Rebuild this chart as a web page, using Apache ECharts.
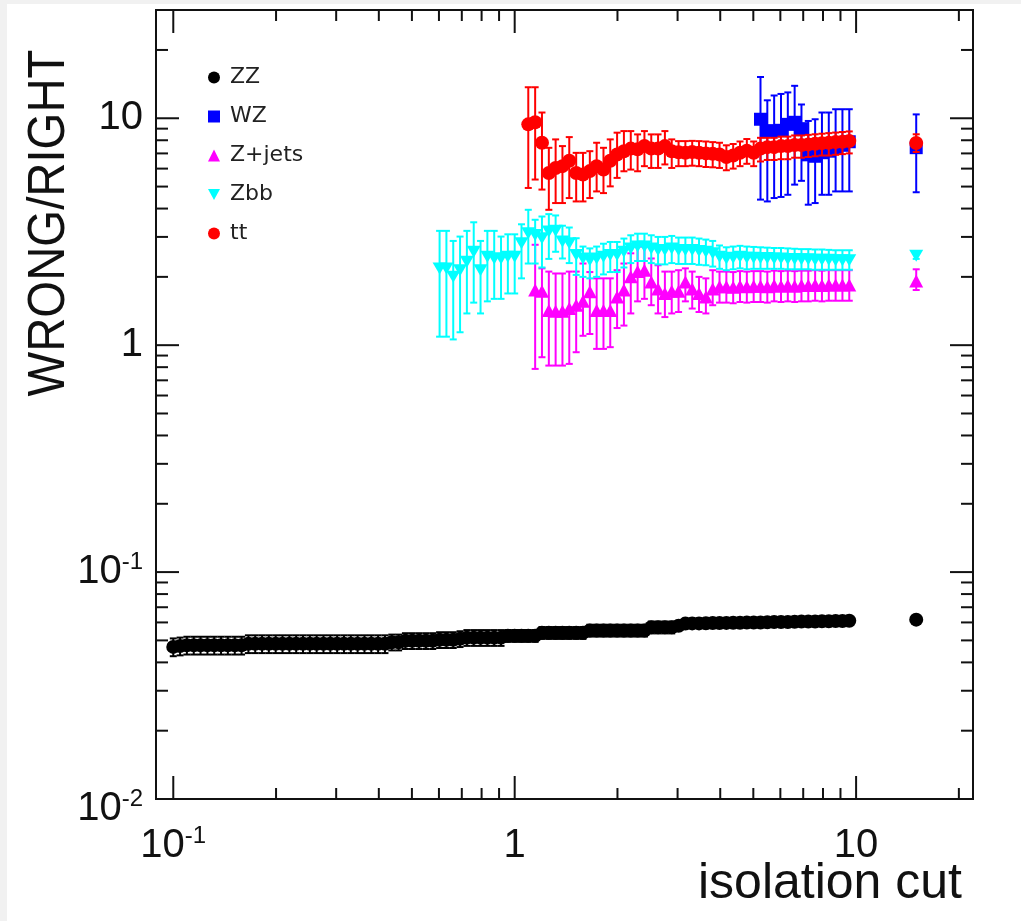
<!DOCTYPE html>
<html><head><meta charset="utf-8">
<script src="https://cdn.jsdelivr.net/npm/echarts@6/dist/echarts.min.js"></script>
<style>
html,body{margin:0;padding:0;background:#f1f1f1;width:1021px;height:921px;overflow:hidden}
#c{position:absolute;left:7px;top:4px;width:1014px;height:917px;background:#fff}
</style></head><body><div id="c"></div><script>
// isolation cut values (log-spaced bins) + overflow point
const xVals = [0.1000,0.1047,0.1096,0.1148,0.1202,0.1259,0.1318,0.1380,0.1445,0.1514,
0.1585,0.1660,0.1738,0.1820,0.1905,0.1995,0.2089,0.2188,0.2291,0.2399,
0.2512,0.2630,0.2754,0.2884,0.3020,0.3162,0.3311,0.3467,0.3631,0.3802,
0.3981,0.4169,0.4365,0.4571,0.4786,0.5012,0.5248,0.5495,0.5754,0.6026,
0.6310,0.6607,0.6918,0.7244,0.7586,0.7943,0.8318,0.8710,0.9120,0.9550,
1.000,1.047,1.096,1.148,1.202,1.259,1.318,1.380,1.445,1.514,
1.585,1.660,1.738,1.820,1.905,1.995,2.089,2.188,2.291,2.399,
2.512,2.630,2.754,2.884,3.020,3.162,3.311,3.467,3.631,3.802,
3.981,4.169,4.365,4.571,4.786,5.012,5.248,5.495,5.754,6.026,
6.310,6.607,6.918,7.244,7.586,7.943,8.318,8.710,9.120,9.550];
const xOverflow = 15;

const seriesNames = ['ZZ','WZ','Z+jets','Zbb','tt'];
const seriesColors = ['#000000','#0000ff','#ff00ff','#00ffff','#ff0000'];
const seriesStart = [0, 86, 53, 39, 52];

// ZZ (values, relative errors)
const zzVal = [0.0468,0.0472,0.0476,0.0476,0.0476,0.0476,0.0476,0.0476,0.0476,0.0476,
0.0476,0.0483,0.0483,0.0483,0.0483,0.0483,0.0483,0.0483,0.0483,0.0483,
0.0483,0.0483,0.0483,0.0483,0.0483,0.0483,0.0483,0.0483,0.0483,0.0483,
0.0483,0.0483,0.0491,0.0491,0.0498,0.0498,0.0498,0.0498,0.0498,0.0503,
0.0503,0.0503,0.0508,0.0514,0.0514,0.0514,0.0514,0.0514,0.0514,0.0524,
0.0524,0.0524,0.0524,0.0524,0.0540,0.0540,0.0540,0.0540,0.0540,0.0540,
0.0540,0.0553,0.0553,0.0553,0.0553,0.0553,0.0553,0.0553,0.0553,0.0553,
0.0571,0.0571,0.0571,0.0571,0.0580,0.0593,0.0594,0.0594,0.0595,0.0596,
0.0596,0.0597,0.0598,0.0598,0.0599,0.0600,0.0600,0.0601,0.0602,0.0603,
0.0603,0.0604,0.0605,0.0605,0.0606,0.0607,0.0607,0.0608,0.0609,0.0610,
0.0617];
const zzErr = [0.09,0.09,0.09,0.09,0.09,0.09,0.09,0.09,0.09,0.09,
0.09,0.09,0.09,0.09,0.09,0.09,0.09,0.09,0.09,0.09,
0.09,0.09,0.09,0.09,0.09,0.09,0.09,0.09,0.09,0.09,
0.09,0.09,0.08,0.08,0.08,0.08,0.08,0.08,0.08,0.08,
0.08,0.08,0.08,0.08,0.08,0.08,0.08,0.08,0.08,0.06,
0.06,0.06,0.06,0.06,0.06,0.06,0.06,0.06,0.06,0.06,
0.06,0.06,0.06,0.06,0.06,0.06,0.06,0.06,0.06,0.06,
0.06,0.06,0.06,0.06,0.03,0.03,0.03,0.03,0.03,0.03,
0.03,0.03,0.03,0.03,0.03,0.03,0.03,0.03,0.03,0.03,
0.03,0.03,0.03,0.03,0.03,0.03,0.03,0.03,0.03,0.03,
0.02];

// WZ
const wzVal  = [9.9, 8.8, 8.8, 8.85, 9.4, 9.6, 9.0, 6.9, 6.8, 7.05, 7.16, 7.4, 7.6, 7.88, 7.42];
const wzHigh = [15.2, 12.0, 12.6, 12.8, 13.0, 13.9, 11.5, 9.73, 9.9, 10.6, 10.6, 10.96, 10.96, 10.96, 10.4];
const wzLow  = [4.38, 4.3, 4.45, 4.5, 4.6, 5.1, 5.3, 4.16, 4.23, 4.6, 4.6, 4.76, 4.76, 4.76, 4.72];

// Z+jets
const zjVal = [1.75,1.73,1.42,1.41,1.41,1.45,1.50,1.56,1.72,1.42,1.42,1.42,1.63,1.75,2.00,2.11,2.14,1.90,1.77,1.69,
1.73,1.73,1.90,1.77,1.69,1.63,1.77,1.81,
1.81,1.80,1.82,1.81,1.82,1.82,1.81,1.83,1.82,1.83,1.82,1.83,1.83,1.84,1.83,1.84,1.84,1.84,1.84,
1.92];
const zjHigh = [2.77,2.18,2.11,2.07,2.07,2.11,2.11,2.29,2.10,1.97,1.97,1.97,2.14,2.29,2.54,2.72,2.72,2.41,2.25,2.11,
2.11,2.14,2.18,2.11,2.00,1.97,2.14,2.11,
2.11,2.10,2.12,2.11,2.12,2.12,2.11,2.13,2.12,2.13,2.12,2.13,2.13,2.14,2.13,2.14,2.14,2.14,2.14,
2.16];
const zjLow = [0.786,0.885,0.813,0.813,0.813,0.827,0.931,1.10,1.12,0.963,0.963,0.98,1.19,1.22,1.38,1.56,1.60,1.50,1.38,1.33,
1.38,1.40,1.56,1.45,1.40,1.38,1.50,1.54,
1.54,1.53,1.55,1.54,1.55,1.55,1.54,1.56,1.55,1.56,1.55,1.56,1.56,1.57,1.56,1.57,1.57,1.57,1.57,
1.75];

// Zbb
const zbbVal = [2.18,2.18,2.00,2.14,2.33,2.58,2.14,2.45,2.41,2.41,2.45,2.45,2.81,3.11,3.06,2.96,3.17,3.19,2.86,2.81,
2.50,2.41,2.37,2.41,2.45,2.50,2.50,2.58,2.67,2.72,2.72,2.67,2.63,2.63,2.67,2.63,2.63,2.63,2.60,2.58,
2.54,2.45,2.41,2.43,2.45,2.43,2.43,2.42,2.42,2.41,2.41,2.40,2.40,2.39,2.39,2.38,2.38,2.38,2.37,2.37,2.37,
2.48];
const zbbHigh = [3.19,3.19,2.88,3.01,3.19,3.48,2.88,3.19,3.19,3.01,3.08,3.08,3.41,3.95,3.57,3.69,3.78,3.73,3.36,3.30,
2.96,2.72,2.67,2.72,2.80,2.85,2.85,2.95,3.05,3.10,3.10,3.05,3.00,3.00,3.03,2.98,2.98,2.98,2.95,2.92,
2.88,2.75,2.70,2.72,2.74,2.72,2.71,2.70,2.69,2.68,2.68,2.67,2.66,2.65,2.65,2.64,2.64,2.63,2.62,2.62,2.62,
2.56];
const zbbLow = [1.09,1.09,1.06,1.14,1.38,1.54,1.38,1.56,1.60,1.60,1.69,1.69,1.97,2.29,2.29,2.20,2.40,2.58,2.41,2.30,
2.04,2.00,1.97,2.00,2.05,2.10,2.10,2.20,2.30,2.35,2.35,2.30,2.27,2.27,2.30,2.28,2.28,2.28,2.26,2.25,
2.22,2.17,2.14,2.16,2.18,2.16,2.17,2.17,2.17,2.17,2.17,2.16,2.16,2.16,2.16,2.15,2.15,2.15,2.15,2.15,2.15,
2.40];

// tt
const ttVal = [9.4,9.6,7.8,5.74,6.04,6.15,6.5,5.74,5.65,5.85,6.15,5.95,6.5,6.92,7.16,7.35,7.3,7.55,7.35,7.35,
7.54,7.16,7.08,7.05,7.10,7.05,7.00,6.98,6.92,6.75,6.85,7.05,7.2,7.05,7.35,7.46,7.46,7.54,7.54,7.62,
7.62,7.67,7.72,7.77,7.80,7.85,7.88,7.93,
7.78];
const ttHigh = [13.7,13.7,10.6,7.41,8.07,7.54,8.26,7.04,7.04,7.16,7.8,7.41,8.07,8.64,8.78,8.78,8.49,8.78,8.49,8.49,
8.78,8.07,7.93,7.93,7.95,7.93,7.90,7.85,7.80,7.60,7.70,7.90,8.10,7.90,8.20,8.20,8.20,8.30,8.30,8.40,
8.40,8.45,8.50,8.55,8.60,8.65,8.70,8.75,
8.50];
const ttLow = [4.93,5.37,4.85,3.95,4.23,4.23,4.45,4.30,4.30,4.45,4.76,4.68,5.01,5.46,5.84,5.94,5.84,6.15,6.04,6.04,
6.26,6.04,6.15,6.15,6.18,6.15,6.10,6.08,6.04,5.90,6.00,6.15,6.30,6.15,6.45,6.55,6.55,6.60,6.60,6.70,
6.70,6.75,6.80,6.85,6.85,6.90,6.95,7.00,
7.10];

// axis ticks
const xMajorTicks = [0.1, 1, 10];
const xMinorTicks = [0.2,0.3,0.4,0.5,0.6,0.7,0.8,0.9,2,3,4,5,6,7,8,9,20];
const yMajorTicks = [0.01, 0.1, 1, 10];
const yMinorTicks = [0.02,0.03,0.04,0.05,0.06,0.07,0.08,0.09,0.2,0.3,0.4,0.5,0.6,0.7,0.8,0.9,2,3,4,5,6,7,8,9,20];

const xAxisTitle = 'isolation cut';
const yAxisTitle = 'WRONG/RIGHT';

// ---------- build ----------
const FONT = "'Liberation Sans', Arial, sans-serif";
const INK = '#111';
const INV_TRI = 'path://M0,0L10,0L5,9Z';

function xsFor(k, n) {
  const xs = xVals.slice(seriesStart[k], seriesStart[k] + n - 1);
  xs.push(xOverflow);
  return xs;
}
const valsAll = [zzVal, wzVal, zjVal, zbbVal, ttVal];
const lowAll = [zzVal.map((v,i)=>v*(1-zzErr[i])), wzLow, zjLow, zbbLow, ttLow];
const highAll = [zzVal.map((v,i)=>v*(1+zzErr[i])), wzHigh, zjHigh, zbbHigh, ttHigh];
const symbols = ['circle','rect','triangle',INV_TRI,'circle'];
const symSizes = [14, 13, [14,13], [14,12], 14];

function isPow(v){ const l = Math.log10(v); return Math.abs(l - Math.round(l)) < 1e-6; }
function tickFmt(v){
  if (!isPow(v)) return '';
  const e = Math.round(Math.log10(v));
  if (e === 0) return '{b|1}';
  if (e === 1) return '{b|10}';
  if (e === -2) return '{pad| }{b2|10}{s2|' + e + '}';
  return '{b|10}{s|' + e + '}';
}
const richLab = {
  b: {fontSize: 40, fontFamily: FONT, color: INK, lineHeight: 44},
  s: {fontSize: 24, fontFamily: FONT, color: INK, lineHeight: 32, verticalAlign: 'top'},
  pad: {fontSize: 2, lineHeight: 60, width: 0},
  b2: {fontSize: 40, fontFamily: FONT, color: INK, lineHeight: 44, verticalAlign: 'bottom'},
  s2: {fontSize: 24, fontFamily: FONT, color: INK, lineHeight: 32, verticalAlign: 'middle'}
};

function errSeries(k) {
  const xs = xsFor(k, valsAll[k].length);
  const color = seriesColors[k];
  return {
    type: 'custom', name: seriesNames[k] + '_err', silent: true, z: 2 + 2*k,
    data: xs.map((x, i) => [x, lowAll[k][i], highAll[k][i]]),
    encode: {x: 0, y: [1, 2]},
    renderItem(params, api) {
      const x = api.value(0);
      const lo = api.coord([x, api.value(1)]);
      const hi = api.coord([x, api.value(2)]);
      const w = 3.5;
      const st = {stroke: color, lineWidth: 2};
      return {type: 'group', children: [
        {type: 'line', shape: {x1: lo[0], y1: lo[1], x2: hi[0], y2: hi[1]}, style: st},
        {type: 'line', shape: {x1: lo[0]-w, y1: lo[1], x2: lo[0]+w, y2: lo[1]}, style: st},
        {type: 'line', shape: {x1: hi[0]-w, y1: hi[1], x2: hi[0]+w, y2: hi[1]}, style: st}
      ]};
    }
  };
}
function markSeries(k) {
  const xs = xsFor(k, valsAll[k].length);
  return {
    type: 'scatter', name: seriesNames[k], silent: true, z: 3 + 2*k,
    symbol: symbols[k], symbolSize: symSizes[k], symbolKeepAspect: false,
    itemStyle: {color: seriesColors[k], opacity: 1},
    data: xs.map((x, i) => [x, valsAll[k][i]])
  };
}
function tickSeries(values, axis, len) {
  return {
    type: 'custom', silent: true, z: 30, clip: false,
    data: values.map(v => axis === 'x' ? [v, 1] : [1, v]),
    encode: {x: 0, y: 1},
    renderItem(params, api) {
      const cs = params.coordSys;
      const st = {stroke: INK, lineWidth: 2};
      if (axis === 'x') {
        const px = api.coord([api.value(0), 1])[0];
        const yb = cs.y + cs.height, yt = cs.y;
        return {type: 'group', children: [
          {type: 'line', shape: {x1: px, y1: yb, x2: px, y2: yb - len}, style: st},
          {type: 'line', shape: {x1: px, y1: yt, x2: px, y2: yt + len}, style: st}
        ]};
      } else {
        const py = api.coord([1, api.value(1)])[1];
        const xl = cs.x, xr = cs.x + cs.width;
        return {type: 'group', children: [
          {type: 'line', shape: {x1: xl, y1: py, x2: xl + len, y2: py}, style: st},
          {type: 'line', shape: {x1: xr, y1: py, x2: xr - len, y2: py}, style: st}
        ]};
      }
    }
  };
}

const series = [];
for (let k = 0; k < 5; k++) { series.push(errSeries(k)); series.push(markSeries(k)); }
series.push(tickSeries(xMajorTicks, 'x', 23));
series.push(tickSeries(xMinorTicks, 'x', 11));
series.push(tickSeries(yMajorTicks, 'y', 23));
series.push(tickSeries(yMinorTicks, 'y', 12));

const chart = echarts.init(document.getElementById('c'));
chart.setOption({
  animation: false,
  backgroundColor: '#ffffff',
  grid: {left: 149, right: 48, top: 6, bottom: 122, show: true, borderColor: INK, borderWidth: 2},
  xAxis: {
    type: 'log', logBase: 10, min: 0.089, max: 22,
    axisLine: {show: false}, axisTick: {show: false}, splitLine: {show: false},
    axisLabel: {formatter: tickFmt, rich: richLab, margin: 25, showMinLabel: true, showMaxLabel: true}
  },
  yAxis: {
    type: 'log', logBase: 10, min: 0.01, max: 30,
    axisLine: {show: false}, axisTick: {show: false}, splitLine: {show: false},
    axisLabel: {formatter: tickFmt, rich: richLab, margin: 13, showMinLabel: true, showMaxLabel: true}
  },
  legend: {
    orient: 'vertical', left: 201, top: 62, padding: 0, itemGap: 16,
    itemWidth: 12, itemHeight: 12, selectedMode: false,
    textStyle: {fontFamily: "'DejaVu Sans', sans-serif", fontSize: 22, color: '#222', lineHeight: 23, padding: [0,0,0,5]},
    data: seriesNames.map((n, k) => ({name: n, icon: symbols[k]}))
  },
  graphic: [
    {type: 'text', x: 43, y: 219, rotation: Math.PI / 2, scaleX: 0.91, silent: true,
     style: {text: yAxisTitle, fontFamily: FONT, fontSize: 52, fill: INK, align: 'center', verticalAlign: 'middle'}},
    {type: 'text', x: 955, y: 880, silent: true,
     style: {text: xAxisTitle, fontFamily: FONT, fontSize: 50, fill: INK, align: 'right', verticalAlign: 'middle'}}
  ],
  series: series
});
</script></body></html>
